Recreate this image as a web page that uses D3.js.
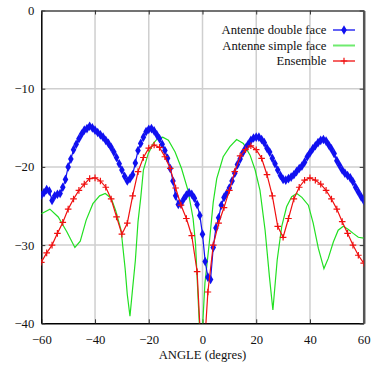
<!DOCTYPE html>
<html>
<head>
<meta charset="utf-8">
<script src="https://cdn.jsdelivr.net/npm/d3@7"></script>
<style>
  html, body { margin: 0; padding: 0; background: #fff; }
  svg { display: block; }
  .lbl { font-family: "Liberation Serif", "DejaVu Serif", "Times New Roman", Times, serif; font-size: 12.7px; fill: #111; }
</style>
</head>
<body>
<svg id="chart" width="373" height="365"></svg>
<script>
// axes
const xTicks = [-60, -40, -20, 0, 20, 40, 60];
const yTicks = [-40, -30, -20, -10, 0];
const xLabel = "ANGLE (degres)";

// Antenne double face : one point per degree, -60..60
const doubleX = d3.range(-60, 61, 1);
const doubleY = [
  -23.6, -23.3, -22.9, -23.1, -24.3, -23.7, -23.5, -23.4, -22.6, -21.6,
  -20.0, -19.0, -17.8, -17.1, -16.4, -15.8, -15.3, -15.1, -14.8, -15.0,
  -15.3, -15.6, -15.9, -16.2, -16.6, -17.0, -17.5, -18.1, -18.8, -19.6,
  -20.4, -21.2, -21.8, -21.5, -21.0, -19.5, -17.9, -17.0, -16.2, -15.5,
  -15.2, -15.1, -15.4, -15.9, -16.4, -17.1, -17.9, -18.9, -20.2, -21.8,
  -23.7, -24.8, -24.7, -24.1, -23.6, -23.3, -23.5, -24.0, -24.8, -26.2,
  -28.6, -32.1, -34.1, -34.4, -30.3, -27.8, -26.5, -24.9, -23.9, -23.4,
  -22.7, -21.8, -20.8, -19.7, -19.0, -18.2, -17.6, -17.1, -16.6, -16.3,
  -16.2, -16.2, -16.5, -16.9, -17.6, -18.1, -18.9, -19.6, -20.4, -21.1,
  -21.6, -21.7, -21.5, -21.3, -21.0, -20.6, -20.2, -19.9, -19.4, -18.7,
  -18.2, -17.7, -17.3, -16.9, -16.6, -16.5, -16.7, -17.2, -17.7, -18.3,
  -19.2, -19.8, -20.4, -20.8, -21.1, -21.4, -21.9, -22.6, -23.2, -23.8,
  -24.3
];

// Antenne simple face (no markers)
const simpleX = [
  -60, -56.8, -53.7, -50.5, -47.5, -45.5, -43.3, -40.8, -38.3, -36.2,
  -34, -32.3, -30.3, -28.8, -28, -27, -26, -25, -24, -23,
  -22, -20.2, -18.3, -16.5, -14.8, -12.7, -10.2, -7.8, -5.4, -3.5,
  -2.6, -1.9, -1.2, -0.6, 0.1, 0.9, 2.5, 4.0, 5.3, 7.7,
  10.2, 12.7, 15.2, 17.7, 19.6, 21.4, 23.3, 24.9, 26.2, 27.8,
  29.5, 31.3, 33.2, 35.1, 37.0, 39.4, 41.2, 43.1, 45.2, 46.8,
  48.7, 50.5, 52.4, 54.3, 56.1, 58, 60
];
const simpleY = [
  -26.0, -25.4, -26.4, -28.3, -30.3, -29.5, -26.8, -24.7, -23.7, -23.4,
  -24.0, -25.6, -28.1, -33.0, -36.3, -39.1, -35.5, -32.0, -27.0, -24.0,
  -20.4, -18.3, -17.0, -16.3, -16.2, -16.6, -18.1, -20.2, -23.0, -26.6,
  -29.8, -34.9, -40.0, -43.0, -40.0, -34.9, -29.8, -24.5, -21.5, -18.7,
  -17.4, -16.5, -17.0, -18.5, -20.4, -23.0, -28.1, -34.0, -38.3, -31.9,
  -27.6, -25.1, -23.8, -23.4, -23.9, -24.9, -27.2, -30.4, -33.0, -31.7,
  -29.6, -28.1, -27.6, -28.0, -28.5, -29.0, -29.1
];

// Ensemble : one point every 2 degrees, -60..60
const ensembleX = d3.range(-60, 61, 2);
const ensembleY = [
  -32.2, -31.0, -30.0, -28.5, -27.1, -25.4, -24.1, -23.0, -22.2, -21.5,
  -21.4, -21.8, -22.6, -24.1, -26.4, -28.6, -27.2, -23.7, -20.6, -18.8,
  -17.6, -17.2, -17.5, -18.7, -20.2, -22.7, -24.9, -26.6, -28.8, -33.4,
  -47.0, -36.0, -30.0, -27.2, -25.2, -23.0, -20.6, -18.6, -17.8, -17.3,
  -17.8, -18.9, -21.0, -23.7, -27.6, -29.0, -26.6, -24.1, -22.6, -21.7,
  -21.4, -21.7, -22.2, -23.0, -24.1, -25.4, -27.0, -28.5, -30.0, -31.3,
  -32.3
];

const legendNames = ["Antenne double face", "Antenne simple face", "Ensemble"];

const svg = d3.select("#chart");
const plotLeft = 41.3, plotRight = 363.7, plotTop = 10.5, plotBottom = 323.3;

const x = d3.scaleLinear().domain([-60, 60]).range([plotLeft, plotRight]);
const y = d3.scaleLinear().domain([-40, 0]).range([plotBottom, plotTop]);

// grid
const grid = svg.append("g").attr("stroke", "#cfcfcf").attr("stroke-width", 1.5);
grid.selectAll("line.gx")
  .data(xTicks.filter(d => d > -60 && d < 60))
  .enter().append("line")
  .attr("x1", d => x(d)).attr("x2", d => x(d))
  .attr("y1", plotTop).attr("y2", plotBottom);
grid.selectAll("line.gy")
  .data(yTicks.filter(d => d > -40 && d < 0))
  .enter().append("line")
  .attr("y1", d => y(d)).attr("y2", d => y(d))
  .attr("x1", plotLeft).attr("x2", plotRight);

// axes, gnuplot style: inward ticks, mirrored
const xAxis = svg.append("g")
  .attr("transform", `translate(0,${plotBottom})`)
  .call(d3.axisBottom(x).tickValues(xTicks).tickSize(-4).tickPadding(12).tickSizeOuter(0));
const yAxis = svg.append("g")
  .attr("transform", `translate(${plotLeft},0)`)
  .call(d3.axisLeft(y).tickValues(yTicks).tickSize(-4).tickPadding(7).tickSizeOuter(0));
svg.append("g")
  .attr("transform", `translate(0,${plotTop})`)
  .call(d3.axisTop(x).tickValues(xTicks).tickSize(-4).tickFormat("").tickSizeOuter(0))
  .call(g => g.select(".domain").attr("stroke", "#444").attr("stroke-width", 1.5));
svg.append("g")
  .attr("transform", `translate(${plotRight},0)`)
  .call(d3.axisRight(y).tickValues(yTicks).tickSize(-4).tickFormat("").tickSizeOuter(0))
  .call(g => g.select(".domain").attr("stroke", "#555").attr("stroke-width", 2.5));

[xAxis, yAxis].forEach(a => {
  a.attr("font-family", null).attr("font-size", null);
  a.select(".domain").attr("stroke", "#000").attr("stroke-width", 1.5);
  a.selectAll("text").attr("class", "lbl").attr("fill", "#111");
});
svg.selectAll(".tick line").attr("stroke", "#333");

svg.append("text")
  .attr("class", "lbl")
  .attr("x", x(0))
  .attr("y", 359)
  .attr("text-anchor", "middle")
  .text(xLabel);

// data
svg.append("clipPath").attr("id", "plot-clip")
  .append("rect")
  .attr("x", plotLeft).attr("y", plotTop)
  .attr("width", plotRight - plotLeft).attr("height", plotBottom - plotTop);

const plot = svg.append("g").attr("clip-path", "url(#plot-clip)");

const line = d3.line().x(d => x(d[0])).y(d => y(d[1]));

const simpleData = simpleX.map((v, i) => [v, simpleY[i]]);
const doubleData = doubleX.map((v, i) => [v, doubleY[i]]);
const ensembleData = ensembleX.map((v, i) => [v, ensembleY[i]]);

const blue = "#1010f0", green = "#22e022", red = "#f01010";
const diamond = d3.symbol().type(d3.symbolDiamond).size(27);

function plusPath(s) {
  return `M${-s},0H${s}M0,${-s}V${s}`;
}

plot.append("path")
  .datum(simpleData)
  .attr("fill", "none")
  .attr("stroke", green)
  .attr("stroke-width", 1.2)
  .attr("d", line);

plot.append("path")
  .datum(doubleData)
  .attr("fill", "none")
  .attr("stroke", blue)
  .attr("stroke-width", 1.2)
  .attr("d", line);
plot.selectAll("path.dmark")
  .data(doubleData)
  .enter().append("path")
  .attr("class", "dmark")
  .attr("transform", d => `translate(${x(d[0])},${y(d[1])})`)
  .attr("d", diamond)
  .attr("fill", blue);

plot.append("path")
  .datum(ensembleData)
  .attr("fill", "none")
  .attr("stroke", red)
  .attr("stroke-width", 1.2)
  .attr("d", line);
plot.selectAll("path.emark")
  .data(ensembleData)
  .enter().append("path")
  .attr("class", "emark")
  .attr("transform", d => `translate(${x(d[0])},${y(d[1])})`)
  .attr("d", plusPath(3.3))
  .attr("stroke", red)
  .attr("stroke-width", 1.2)
  .attr("fill", "none");

// legend
const legend = svg.append("g");
const legendColors = [blue, green, red];
legendNames.forEach((name, i) => {
  const ly = 30 + i * 15.5;
  legend.append("text")
    .attr("class", "lbl")
    .attr("x", 326.5)
    .attr("y", ly + 4)
    .attr("text-anchor", "end")
    .text(name);
  legend.append("line")
    .attr("x1", 333).attr("x2", 355)
    .attr("y1", ly).attr("y2", ly)
    .attr("stroke", legendColors[i])
    .attr("stroke-opacity", 0.65)
    .attr("stroke-width", 2);
  if (i === 0) {
    legend.append("path")
      .attr("transform", `translate(344,${ly})`)
      .attr("d", diamond)
      .attr("fill", blue);
  } else if (i === 2) {
    legend.append("path")
      .attr("transform", `translate(344,${ly})`)
      .attr("d", plusPath(3.3))
      .attr("stroke", red)
      .attr("stroke-width", 1.2);
  }
});
</script>
</body>
</html>
